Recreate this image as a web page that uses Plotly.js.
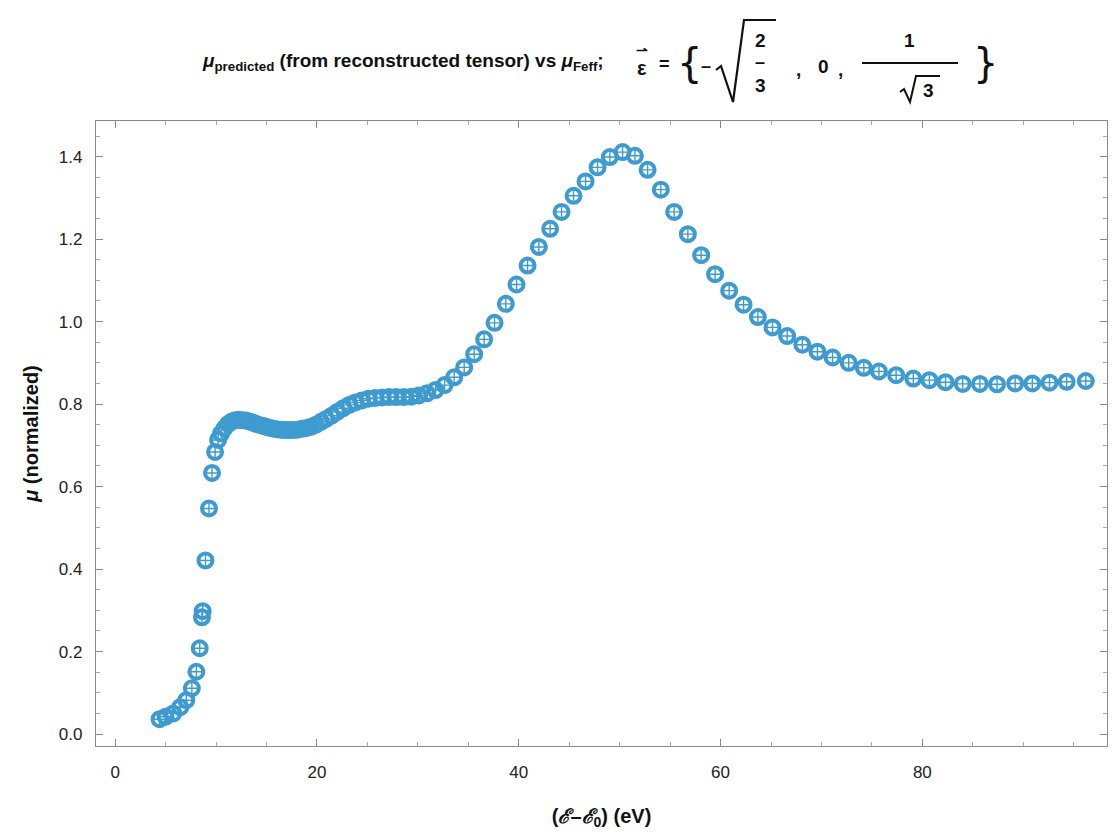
<!DOCTYPE html>
<html><head><meta charset="utf-8">
<script src="https://cdn.plot.ly/plotly-3.0.1.min.js"></script>
<style>html,body{margin:0;padding:0;background:#fff}</style>
</head><body><div id="chart" style="width:1119px;height:839px"></div>
<script>
// Energy (eV) relative to edge
const energy = [4.4, 5.0, 5.75, 6.45, 7.05, 7.6, 8.05, 8.38, 8.6, 8.67, 8.95, 9.3, 9.6, 9.9, 10.2,
  10.5, 10.85, 11.2, 11.55, 11.9, 12.25, 12.6, 12.95, 13.3, 13.65, 14.0, 14.4, 14.8, 15.2, 15.6,
  16.0, 16.4, 16.8, 17.2, 17.6, 18.05, 18.5, 18.95, 19.4, 19.9, 20.4, 20.9, 21.45, 22.0, 22.6,
  23.2, 23.8, 24.45, 25.1, 25.75, 26.45, 27.15, 27.85, 28.6, 29.35, 30.1, 30.9, 31.75, 32.65,
  33.6, 34.59, 35.58, 36.57, 37.6, 38.72, 39.78, 40.87, 41.99, 43.11, 44.24, 45.43, 46.62,
  47.81, 49.03, 50.29, 51.51, 52.77, 54.08, 55.4, 56.76, 58.08, 59.46, 60.85, 62.28, 63.7,
  65.15, 66.6, 68.1, 69.6, 71.1, 72.7, 74.2, 75.7, 77.4, 79.1, 80.7, 82.3, 84.0, 85.7, 87.4,
  89.2, 90.9, 92.6, 94.3, 96.2];
// Normalized absorption
const mu = [0.036, 0.042, 0.050, 0.065, 0.082, 0.111, 0.151, 0.208, 0.283, 0.298, 0.421, 0.547,
  0.633, 0.684, 0.713, 0.729, 0.742, 0.752, 0.758, 0.761, 0.762, 0.761, 0.760, 0.758, 0.755,
  0.752, 0.749, 0.746, 0.743, 0.741, 0.739, 0.738, 0.737, 0.737, 0.737, 0.738, 0.740, 0.742,
  0.745, 0.750, 0.757, 0.764, 0.772, 0.781, 0.790, 0.798, 0.804, 0.809, 0.813, 0.815, 0.816,
  0.817, 0.817, 0.817, 0.818, 0.821, 0.826, 0.834, 0.846, 0.865, 0.889, 0.921, 0.957, 0.997,
  1.043, 1.090, 1.136, 1.181, 1.225, 1.266, 1.305, 1.340, 1.374, 1.399, 1.411, 1.402, 1.368,
  1.320, 1.266, 1.212, 1.161, 1.115, 1.075, 1.041, 1.011, 0.986, 0.965, 0.944, 0.927, 0.913,
  0.900, 0.888, 0.879, 0.870, 0.862, 0.858, 0.853, 0.849, 0.849, 0.848, 0.850, 0.850, 0.852,
  0.854, 0.856];
const xTickVals = [0, 20, 40, 60, 80];
const yTickVals = [0.0, 0.2, 0.4, 0.6, 0.8, 1.0, 1.2, 1.4];
const yTickText = ['0.0', '0.2', '0.4', '0.6', '0.8', '1.0', '1.2', '1.4'];

const W = 1119, H = 839, ML = 96, MR = 12, MT = 121, MB = 93;
const PW = W - ML - MR, PH = H - MT - MB;
const px = x => (x - ML) / PW;
const py = y => (H - MB - y) / PH;

const blue = 'rgb(62,155,208)';
const traces = [
  {x: energy, y: mu, type: 'scatter', mode: 'markers', showlegend: false,
   marker: {symbol: 'circle-open', size: 14, color: blue, line: {color: blue, width: 4}}},
  {x: energy, y: mu, type: 'scatter', mode: 'markers', showlegend: false,
   marker: {symbol: 'cross-thin-open', size: 9, color: blue, line: {color: 'rgb(100,165,205)', width: 1.4}}}
];

const tf = 'Liberation Sans Narrow, Arial Narrow, Liberation Sans, Arial, sans-serif';
const ann = (x, y, text, size, extra) => Object.assign({
  xref: 'paper', yref: 'paper', x: px(x), y: py(y), text: text, showarrow: false,
  xanchor: 'center', yanchor: 'middle', font: {family: tf, size: size, color: '#111'}
}, extra || {});

const annotations = [
  ann(200, 62, '<b><i>μ</i><sub>predicted</sub> (from reconstructed tensor) vs <i>μ</i><sub>Feff</sub>;</b>', 19, {xanchor: 'left'}),
  ann(642, 68, '<b>ε</b>', 20),
  ann(642, 50, '<b>⇀</b>', 14),
  ann(664, 64, '<b>=</b>', 18),
  ann(689, 63, '{', 40, {font: {family: 'DejaVu Sans', size: 40, color: '#111'}}),
  ann(706, 66, '<b>–</b>', 18),
  ann(760, 40, '<b>2</b>', 19),
  ann(760, 62, '<b>–</b>', 18),
  ann(760, 86, '<b>3</b>', 19),
  ann(798, 69, '<b>,</b>', 19),
  ann(823, 67, '<b>0</b>', 19),
  ann(840, 69, '<b>,</b>', 19),
  ann(909, 40, '<b>1</b>', 19),
  ann(928, 91, '<b>3</b>', 19),
  ann(985, 63, '}', 40, {font: {family: 'DejaVu Sans', size: 40, color: '#111'}})
];
const pathPts = pts => 'M' + pts.map(p => px(p[0]) + ',' + py(p[1])).join(' L');
const shapes = [
  {type: 'path', xref: 'paper', yref: 'paper', path: pathPts([[716, 70], [721, 66], [733, 102], [744, 20], [776, 20]]),
   line: {color: '#111', width: 2.2}},
  {type: 'line', xref: 'paper', yref: 'paper', x0: px(862), x1: px(958), y0: py(63), y1: py(63), line: {color: '#111', width: 2}},
  {type: 'path', xref: 'paper', yref: 'paper', path: pathPts([[900, 92], [904, 89], [910, 102], [916, 76], [940, 76]]),
   line: {color: '#111', width: 2}}
];

const axisCommon = {
  showline: true, linecolor: '#8a8a8a', linewidth: 1.2, mirror: 'allticks',
  ticks: 'inside', ticklen: 7, tickwidth: 1, tickcolor: '#8a8a8a',
  showgrid: false, zeroline: false,
  tickfont: {family: 'Liberation Sans, Arial, sans-serif', size: 17, color: '#222'}
};
const layout = {
  width: W, height: H, margin: {l: ML, r: MR, t: MT, b: MB},
  paper_bgcolor: '#fff', plot_bgcolor: '#fff',
  xaxis: Object.assign({}, axisCommon, {
    range: [-1.9, 98.3], tickmode: 'array', tickvals: xTickVals, ticklabelstandoff: 10,
    minor: {dtick: 5, tick0: 0, ticks: 'inside', ticklen: 4, tickcolor: '#aaa', showgrid: false},
    title: {text: '<b>(<i>ℰ</i>–<i>ℰ</i><sub>0</sub>) (eV)</b>', standoff: 28,
      font: {family: tf, size: 20, color: '#111'}}
  }),
  yaxis: Object.assign({}, axisCommon, {
    range: [-0.029, 1.4864], tickmode: 'array', tickvals: yTickVals, ticktext: yTickText, ticklabelstandoff: 9,
    minor: {dtick: 0.05, tick0: 0, ticks: 'inside', ticklen: 4, tickcolor: '#aaa', showgrid: false},
    title: {text: '<b><i>μ</i> (normalized)</b>', standoff: 14,
      font: {family: tf, size: 20, color: '#111'}}
  }),
  annotations: annotations,
  shapes: shapes
};
Plotly.newPlot('chart', traces, layout, {displayModeBar: false, staticPlot: true});
</script>
</body></html>
